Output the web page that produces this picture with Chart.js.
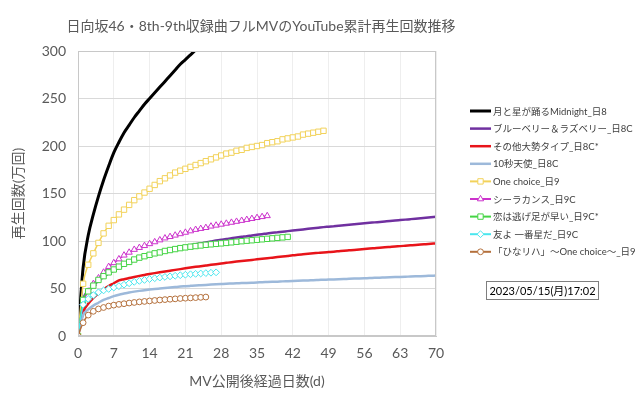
<!DOCTYPE html>
<html>
<head>
<meta charset="utf-8">
<script src="https://cdn.jsdelivr.net/npm/chart.js@4.4.0/dist/chart.umd.min.js"></script>
<style>
  html, body { margin: 0; padding: 0; background: #fff; }
  #wrap { width: 640px; height: 397px; }
</style>
</head>
<body>
<div id="wrap"><canvas id="chart" width="640" height="397"></canvas></div>
<script>
const chartTitle = '日向坂46・8th-9th収録曲フルMVのYouTube累計再生回数推移';
const stampText = '2023/05/15(月)17:02';
const seriesNames = [
  '月と星が踊るMidnight_日8',
  'ブルーベリー＆ラズベリー_日8C',
  'その他大勢タイプ_日8C*',
  '10秒天使_日8C',
  'One choice_日9',
  'シーラカンス_日9C',
  '恋は逃げ足が早い_日9C*',
  '友よ 一番星だ_日9C',
  '「ひなリハ」～One choice～_日9'
];
const dayTicks = [0, 7, 14, 21, 28, 35, 42, 49, 56, 63, 70];
const viewTicks = [0, 50, 100, 150, 200, 250, 300];

// cumulative views (万回), one value per day from day 0
const midnight = [0,72,106,128,147,164,179,193,204,214,222,230,237,244,250,256,262,268,274,280,286,291,296,301,306];
const blueberry = [0,38,47,53,58,62,66,69,72,75,77,80,82,84,85.5,87,88.5,90,91,92.5,93.5,94.5,95.5,96.5,97.5,98.5,99.5,100.5,101.3,102,103,103.7,104.4,105,105.8,106.5,107.2,108,108.6,109.2,109.8,110.4,111,111.6,112.2,112.8,113.4,114,114.6,115.1,115.6,116.1,116.6,117.1,117.6,118.1,118.6,119.1,119.6,120.1,120.6,121.1,121.5,122,122.5,123,123.5,124,124.5,125,125.5];
const sonota = [0,25,34,40,45,49,52.5,55.5,58.5,59.8,61,62.2,63.3,64.3,65.3,66.2,67.1,68,68.8,69.6,70.4,71.2,72,72.8,73.5,74.2,74.9,75.6,76.3,77,77.7,78.3,78.9,79.5,80.1,80.7,81.3,81.9,82.5,83.1,83.7,84.3,84.9,85.5,86,86.5,87,87.5,88,88.4,88.8,89.3,89.8,90.2,90.6,91.1,91.5,92,92.4,92.8,93.3,93.7,94.1,94.6,95,95.4,95.8,96.3,96.7,97.1,97.5];
const tenSec = [0,22,28,32,35,38,40,42,43.5,44.7,45.8,46.7,47.5,48.2,48.9,49.5,50,50.5,51,51.5,52,52.4,52.8,53.2,53.5,53.8,54.1,54.4,54.7,55,55.2,55.4,55.7,55.9,56.1,56.3,56.6,56.8,57,57.2,57.5,57.7,57.9,58.1,58.3,58.5,58.8,59,59.2,59.4,59.6,59.8,60,60.2,60.4,60.6,60.8,61,61.2,61.4,61.6,61.8,62,62.2,62.4,62.6,62.8,63,63.2,63.4,63.6];
const oneChoice = [0,55,75,87,98,108,116,122,128,133,138,143,147,151,155,159,163,166,169,172,174,176,178,180,182,184,186,188,190,192,193,195,196,198,199,200,201,203,204,205,207,208,209,210,212,213,214,215,216];
const coelacanth = [0,35,47,55,61,67,73,77,81,85,88,91,93,95,97,99,101,103,104.5,106,107.5,109,110.5,112,113,114,115.5,116.5,117.5,118.5,119.5,120.5,121.5,122.5,123.5,124.5,125.5,126.5];
const koi = [0,38,47,53,59,63,67,70,73,76,78,80.5,82.5,84,85.5,87,88,89.5,90.5,91.5,92.5,93.3,94,94.7,95.3,96,96.5,97,97.5,98,98.6,99.2,99.8,100.3,100.8,101.3,101.8,102.3,102.8,103.3,103.8,104.3];
const tomoyo = [0,33,39,43,46,48,49.5,51,52.5,54,55.5,57,58,59,60,60.8,61.5,62.2,62.8,63.4,64,64.5,65,65.4,65.8,66.2,66.6,67];
const hinareha = [0,14,22,26,28.5,30,31.5,32.5,33.3,34,34.7,35.3,35.9,36.4,36.9,37.4,37.9,38.3,38.7,39.1,39.5,39.8,40.1,40.4,40.7,41];

const allSeries = [midnight, blueberry, sonota, tenSec, oneChoice, coelacanth, koi, tomoyo, hinareha];

const FONT = 'Lato, "Noto Sans CJK JP", sans-serif';
const GRAY = '#595959';

const looks = [
  { color: '#000000', width: 3 },
  { color: '#7030a0', width: 2.5 },
  { color: '#e8141a', width: 2.5 },
  { color: '#9db9da', width: 2.5 },
  { color: '#f2d25a', width: 1.5, point: 'rect', r: 3.8 },
  { color: '#cc33cc', width: 1.5, point: 'triangle', r: 3.6 },
  { color: '#44d444', width: 1.5, point: 'rect', r: 3.8 },
  { color: '#4ae6ee', width: 1.5, point: 'rectRot', r: 3.4 },
  { color: '#b4703c', width: 1.5, point: 'circle', r: 2.9 }
];

const datasets = allSeries.map((vals, i) => ({
  label: seriesNames[i],
  data: vals.map((v, d) => ({ x: d, y: v })),
  borderColor: looks[i].color,
  borderWidth: looks[i].width,
  pointStyle: looks[i].point || 'circle',
  pointRadius: looks[i].point ? looks[i].r : 0,
  pointBorderWidth: 1,
  pointBorderColor: looks[i].color,
  pointBackgroundColor: '#ffffff',
  cubicInterpolationMode: 'monotone',
  fill: false,
  order: 20 - i
}));

const overlay = {
  id: 'overlay',
  afterDraw(chart) {
    const ctx = chart.ctx;
    const a = chart.chartArea;
    ctx.save();

    // title
    ctx.fillStyle = GRAY;
    ctx.font = '14px ' + FONT;
    ctx.textAlign = 'center';
    ctx.textBaseline = 'middle';
    ctx.fillText(chartTitle, (a.left + a.right) / 2 + 4, 26);

    // plot frame
    ctx.strokeStyle = '#c8c8c8';
    ctx.lineWidth = 1;
    ctx.strokeRect(a.left + 0.5, a.top + 0.5, a.right - a.left - 1, a.bottom - a.top - 1);

    // legend
    ctx.font = '9.5px ' + FONT;
    ctx.textAlign = 'left';
    chart.data.datasets.forEach((ds, i) => {
      const y = 111 + i * 17.6;
      ctx.strokeStyle = ds.borderColor;
      ctx.lineWidth = Math.max(ds.borderWidth, 2);
      ctx.beginPath();
      ctx.moveTo(470, y);
      ctx.lineTo(491, y);
      ctx.stroke();
      if (ds.pointRadius > 0 && Chart.helpers && Chart.helpers.drawPoint) {
        ctx.fillStyle = '#ffffff';
        ctx.strokeStyle = ds.borderColor;
        ctx.lineWidth = 1;
        Chart.helpers.drawPoint(ctx, { pointStyle: ds.pointStyle, radius: ds.pointRadius, rotation: 0, borderWidth: 1 }, 480.5, y);
      }
      ctx.fillStyle = '#404040';
      ctx.fillText(ds.label, 493, y + 0.5);
    });

    // timestamp box
    ctx.strokeStyle = '#7f7f7f';
    ctx.lineWidth = 1;
    ctx.strokeRect(486.5, 281.5, 112, 18);
    ctx.fillStyle = '#000000';
    ctx.font = '11px ' + FONT;
    ctx.textAlign = 'center';
    ctx.fillText(stampText, 542.5, 291);
    ctx.restore();
  }
};

new Chart(document.getElementById('chart').getContext('2d'), {
  type: 'line',
  data: { datasets: datasets },
  options: {
    responsive: false,
    animation: false,
    layout: { padding: { left: 0, right: 204, top: 51, bottom: 0 } },
    plugins: {
      legend: { display: false },
      tooltip: { enabled: false },
      title: { display: false }
    },
    scales: {
      x: {
        type: 'linear',
        min: dayTicks[0],
        max: dayTicks[dayTicks.length - 1],
        afterBuildTicks: s => { s.ticks = dayTicks.map(v => ({ value: v })); },
        ticks: { color: GRAY, font: { family: FONT, size: 14 }, padding: 9, maxRotation: 0 },
        grid: { color: '#eeeeee', drawTicks: false },
        border: { color: '#c8c8c8' },
        title: { display: true, text: 'MV公開後経過日数(d)', color: GRAY, font: { family: FONT, size: 14 }, padding: { top: 0, bottom: 7 } },
        afterFit: s => { s.height = 61; }
      },
      y: {
        min: viewTicks[0],
        max: viewTicks[viewTicks.length - 1],
        afterBuildTicks: s => { s.ticks = viewTicks.map(v => ({ value: v })); },
        ticks: { color: GRAY, font: { family: FONT, size: 14 }, padding: 12 },
        grid: { color: '#d9d9d9', drawTicks: false },
        border: { color: '#c8c8c8' },
        title: { display: true, text: '再生回数(万回)', color: GRAY, font: { family: FONT, size: 14 }, padding: { top: 10, bottom: 0 } },
        afterFit: s => { s.width = 78; }
      }
    }
  },
  plugins: [overlay]
});
</script>
</body>
</html>
